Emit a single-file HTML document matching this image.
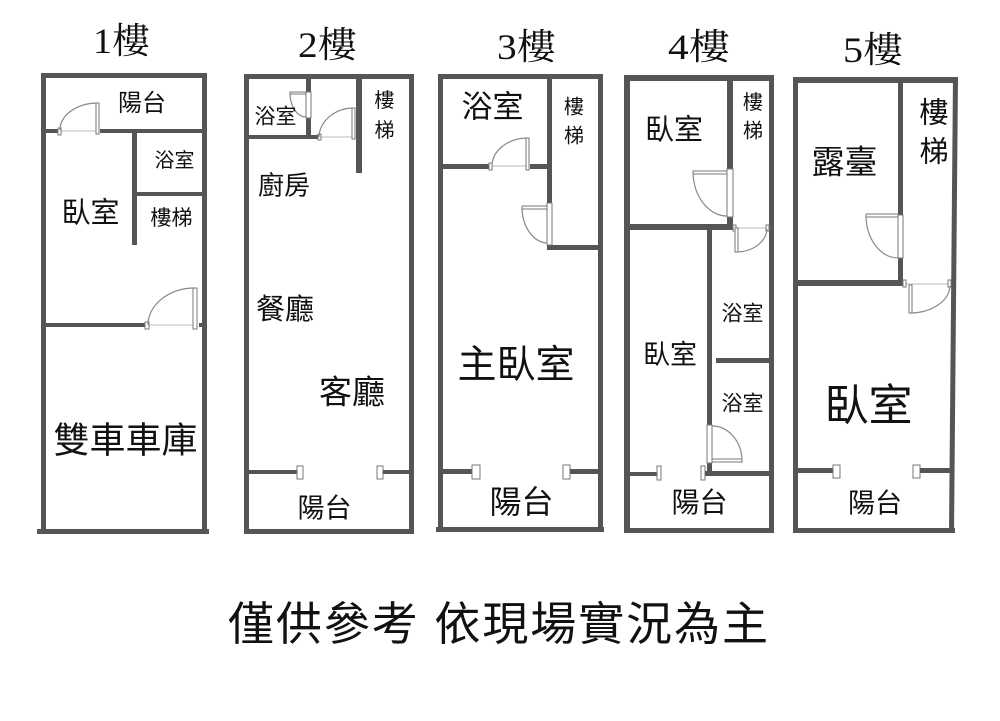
<!DOCTYPE html>
<html><head><meta charset="utf-8"><style>
html,body{margin:0;padding:0;background:#fff;}
svg{display:block;}
.w{fill:#555;}
.f{fill:#fff;stroke:#777;stroke-width:1;}
.a{fill:none;stroke:#888;stroke-width:1.2;}
.t{fill:none;stroke:#bbb;stroke-width:1;}
.l{font-family:"Liberation Sans","Noto Sans CJK TC",sans-serif;fill:#111;text-anchor:middle;dominant-baseline:central;}
.h{font-family:"Liberation Serif","Noto Serif CJK SC",serif;fill:#111;}
</style></head><body>
<svg width="1000" height="721" viewBox="0 0 1000 721" xmlns="http://www.w3.org/2000/svg">
<!-- Titles -->
<text class="h" x="93" y="53" font-size="36" textLength="57" lengthAdjust="spacingAndGlyphs">1樓</text>
<text class="h" x="298" y="57" font-size="36" textLength="59" lengthAdjust="spacingAndGlyphs">2樓</text>
<text class="h" x="497" y="59" font-size="36" textLength="59" lengthAdjust="spacingAndGlyphs">3樓</text>
<text class="h" x="668" y="59" font-size="36" textLength="62" lengthAdjust="spacingAndGlyphs">4樓</text>
<text class="h" x="843" y="62" font-size="36" textLength="60" lengthAdjust="spacingAndGlyphs">5樓</text>

<!-- ===== Floor 1 ===== -->
<rect class="w" x="41" y="73" width="166" height="5"/>
<rect class="w" x="41" y="73" width="5" height="461"/>
<rect class="w" x="202" y="73" width="5" height="461"/>
<rect class="w" x="37" y="529" width="172" height="5"/>
<rect class="w" x="46" y="129" width="12" height="4"/>
<rect class="w" x="100" y="129" width="102" height="4"/>
<line class="t" x1="60" y1="131" x2="97" y2="131"/>
<rect class="f" x="58" y="128" width="3" height="7"/>
<rect class="f" x="96" y="103" width="3" height="31"/>
<path class="a" d="M97 103 A38 27 0 0 0 60 130"/>
<rect class="w" x="132" y="133" width="5" height="112"/>
<rect class="w" x="137" y="192" width="65" height="4"/>
<rect class="w" x="46" y="323" width="99" height="4"/>
<rect class="w" x="199" y="323" width="3" height="4"/>
<line class="t" x1="148" y1="325" x2="195" y2="325"/>
<rect class="f" x="145" y="322" width="4" height="7"/>
<rect class="f" x="193" y="288" width="4" height="41"/>
<path class="a" d="M195 288 A47 37 0 0 0 148 325"/>
<text class="l" x="142" y="103.5" font-size="24">陽台</text>
<text class="l" x="174.5" y="161" font-size="20">浴室</text>
<text class="l" x="90.5" y="213.5" font-size="29">臥室</text>
<text class="l" x="171.5" y="218.5" font-size="21">樓梯</text>
<text class="l" x="125.5" y="440" font-size="36">雙車車庫</text>

<!-- ===== Floor 2 ===== -->
<rect class="w" x="244" y="74" width="170" height="5"/>
<rect class="w" x="244" y="74" width="5" height="460"/>
<rect class="w" x="409" y="74" width="5" height="460"/>
<rect class="w" x="244" y="529" width="170" height="5"/>
<rect class="w" x="306" y="79" width="5" height="14"/>
<rect class="w" x="306" y="117" width="5" height="21"/>
<rect class="f" x="306" y="92" width="5" height="26"/>
<rect class="f" x="290" y="92" width="16" height="2"/>
<path class="a" d="M290 93 A16 24 0 0 0 306 117"/>
<rect class="w" x="249" y="135" width="69" height="4"/>
<line class="t" x1="318" y1="137" x2="352" y2="137"/>
<rect class="f" x="318" y="134" width="3" height="6"/>
<rect class="f" x="352" y="108" width="3" height="31"/>
<path class="a" d="M353 108 A35 30 0 0 0 319 137"/>
<rect class="w" x="356" y="79" width="6" height="94"/>
<rect class="w" x="249" y="470" width="48" height="4"/>
<rect class="f" x="297" y="466" width="6" height="13"/>
<rect class="f" x="377" y="466" width="6" height="13"/>
<rect class="w" x="383" y="470" width="26" height="4"/>
<text class="l" x="275.5" y="117" font-size="21">浴室</text>
<text class="l" x="384.5" y="101" font-size="20">樓</text>
<text class="l" x="384.5" y="131" font-size="20">梯</text>
<text class="l" x="284" y="185.5" font-size="26">廚房</text>
<text class="l" x="285" y="310" font-size="29">餐廳</text>
<text class="l" x="352" y="392" font-size="33">客廳</text>
<text class="l" x="324.5" y="508.5" font-size="27">陽台</text>

<!-- ===== Floor 3 ===== -->
<rect class="w" x="438" y="74" width="165" height="5"/>
<rect class="w" x="438" y="74" width="5" height="458"/>
<rect class="w" x="598" y="74" width="5" height="458"/>
<rect class="w" x="436" y="527" width="168" height="5"/>
<rect class="w" x="443" y="164" width="46" height="5"/>
<rect class="w" x="530" y="164" width="17" height="5"/>
<line class="t" x1="492" y1="166" x2="527" y2="166"/>
<rect class="f" x="489" y="163" width="3" height="7"/>
<rect class="f" x="526" y="138" width="3" height="32"/>
<path class="a" d="M527 138 A36 28 0 0 0 492 166"/>
<rect class="w" x="547" y="79" width="5" height="124"/>
<rect class="w" x="547" y="245" width="56" height="5"/>
<rect class="f" x="547" y="203" width="5" height="42"/>
<rect class="f" x="522" y="206" width="25" height="3"/>
<path class="a" d="M522 207 A26 36 0 0 0 547 243"/>
<rect class="w" x="443" y="469" width="29" height="5"/>
<rect class="f" x="472" y="465" width="8" height="14"/>
<rect class="f" x="563" y="465" width="7" height="14"/>
<rect class="w" x="570" y="469" width="28" height="5"/>
<text class="l" x="492.5" y="107" font-size="31">浴室</text>
<text class="l" x="574" y="107.5" font-size="20">樓</text>
<text class="l" x="574" y="136.5" font-size="20">梯</text>
<text class="l" x="516" y="365.5" font-size="39">主臥室</text>
<text class="l" x="521.5" y="502" font-size="32">陽台</text>

<!-- ===== Floor 4 ===== -->
<rect class="w" x="624" y="75" width="150" height="6"/>
<rect class="w" x="624" y="75" width="6" height="458"/>
<rect class="w" x="769" y="75" width="5" height="458"/>
<rect class="w" x="624" y="528" width="150" height="5"/>
<rect class="w" x="727" y="81" width="6" height="88"/>
<rect class="w" x="727" y="217" width="6" height="13"/>
<rect class="f" x="727" y="169" width="6" height="48"/>
<rect class="f" x="693" y="171" width="34" height="3"/>
<path class="a" d="M693 172 A34 45 0 0 0 727 216"/>
<rect class="w" x="630" y="224" width="103" height="6"/>
<line class="t" x1="736" y1="228" x2="766" y2="228"/>
<rect class="f" x="733" y="225" width="3" height="6"/>
<rect class="f" x="766" y="225" width="3" height="6"/>
<rect class="f" x="735" y="228" width="3" height="24"/>
<path class="a" d="M737 252 A31 24 0 0 0 767 229"/>
<rect class="w" x="707" y="230" width="5" height="195"/>
<rect class="w" x="707" y="463" width="5" height="13"/>
<rect class="f" x="707" y="425" width="5" height="38"/>
<rect class="f" x="712" y="459" width="30" height="3"/>
<path class="a" d="M712 426 A30 35 0 0 1 742 461"/>
<rect class="w" x="716" y="358" width="53" height="5"/>
<rect class="w" x="630" y="472" width="27" height="4"/>
<rect class="f" x="657" y="466" width="4" height="14"/>
<rect class="f" x="701" y="466" width="4" height="14"/>
<rect class="w" x="705" y="471" width="64" height="5"/>
<text class="l" x="674" y="130.5" font-size="29">臥室</text>
<text class="l" x="753" y="103" font-size="20">樓</text>
<text class="l" x="753" y="131.5" font-size="20">梯</text>
<text class="l" x="742.5" y="314" font-size="21">浴室</text>
<text class="l" x="670" y="355" font-size="27">臥室</text>
<text class="l" x="742.5" y="404" font-size="21">浴室</text>
<text class="l" x="699.5" y="502.5" font-size="28">陽台</text>

<!-- ===== Floor 5 ===== -->
<rect class="w" x="793" y="77" width="165" height="6"/>
<rect class="w" x="793" y="77" width="5" height="456"/>
<polygon class="w" points="953,77 958,77 954,533 949,533"/>
<rect class="w" x="793" y="528" width="162" height="5"/>
<rect class="w" x="898" y="83" width="5" height="132"/>
<rect class="w" x="898" y="258" width="5" height="28"/>
<rect class="f" x="898" y="215" width="5" height="43"/>
<rect class="f" x="866" y="214" width="32" height="3"/>
<path class="a" d="M866 215 A32 43 0 0 0 898 258"/>
<rect class="w" x="798" y="280" width="105" height="6"/>
<line class="t" x1="906" y1="284" x2="948" y2="284"/>
<rect class="f" x="903" y="280" width="3" height="7"/>
<rect class="f" x="948" y="280" width="3" height="7"/>
<rect class="f" x="909" y="285" width="3" height="28"/>
<path class="a" d="M910 313 A40 28 0 0 0 950 286"/>
<rect class="w" x="798" y="468" width="35" height="5"/>
<rect class="f" x="833" y="465" width="7" height="13"/>
<rect class="f" x="913" y="465" width="7" height="13"/>
<rect class="w" x="920" y="468" width="31" height="5"/>
<text class="l" x="844.5" y="162" font-size="33">露臺</text>
<text class="l" x="934" y="113.5" font-size="29">樓</text>
<text class="l" x="934" y="152.5" font-size="29">梯</text>
<text class="l" x="868.5" y="406" font-size="44">臥室</text>
<text class="l" x="875" y="503.5" font-size="27">陽台</text>

<!-- Footer -->
<text class="l" x="498" y="624" font-size="46" textLength="540" lengthAdjust="spacing">僅供參考 依現場實況為主</text>
</svg>
</body></html>
